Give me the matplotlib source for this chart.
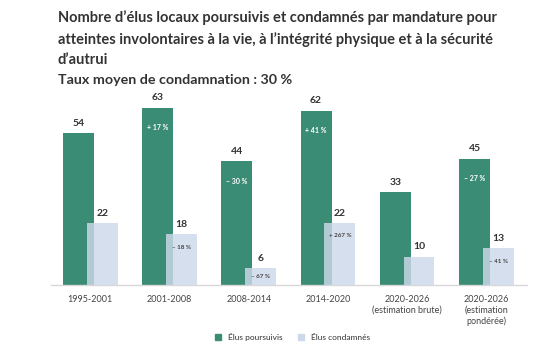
import matplotlib.pyplot as plt
from matplotlib.lines import Line2D

plt.rcParams['font.family'] = ['Lato', 'DejaVu Sans']

# Data
periods = ["1995-2001", "2001-2008", "2008-2014", "2014-2020",
           "2020-2026\n(estimation brute)", "2020-2026\n(estimation\npondérée)"]
poursuivis = [54, 63, 44, 62, 33, 45]
condamnes = [22, 18, 6, 22, 10, 13]
var_poursuivis = [None, "+ 17 %", "– 30 %", "+ 41 %", None, "– 27 %"]
var_condamnes = [None, "– 18 %", "– 67 %", "+ 267 %", None, "– 41 %"]

GREEN = "#3b8c74"
BLUE = "#cdd9ea"
DARK = "#333333"

fig = plt.figure(figsize=(5.45, 3.5), dpi=100)
ax = fig.add_axes([51 / 545, 1 - 285 / 350, 476 / 545, 195 / 350])

x = list(range(len(periods)))
xb = [i + 0.3 for i in x]
ax.bar(x, poursuivis, width=0.39, color=GREEN, zorder=2)
ax.bar(xb, condamnes, width=0.39, color=BLUE, alpha=0.82, zorder=3)

for i in x:
    ax.annotate(str(poursuivis[i]), (x[i], poursuivis[i]), xytext=(0, 4),
                textcoords="offset points", ha="center", va="bottom",
                fontsize=7.5, fontweight="bold", color=DARK)
    ax.annotate(str(condamnes[i]), (xb[i], condamnes[i]), xytext=(0, 4),
                textcoords="offset points", ha="center", va="bottom",
                fontsize=7.5, fontweight="bold", color=DARK)
    if var_poursuivis[i]:
        ax.text(x[i], poursuivis[i] - 7, var_poursuivis[i], ha="center", va="center",
                fontsize=5, fontweight="bold", color="white", zorder=4)
    if var_condamnes[i]:
        ax.text(xb[i], max(condamnes[i] - 4.5, condamnes[i] / 2), var_condamnes[i],
                ha="center", va="center", fontsize=4.5, fontweight="bold",
                color="#444444", zorder=4)

ax.set_xlim(-0.347, 5.663)
ax.set_ylim(0, 69.4)
ax.set_xticks([i + 0.15 for i in x])
ax.set_xticklabels(periods, fontsize=6.5, color="#444444", linespacing=1.25, va="top")
ax.tick_params(axis="x", length=0, pad=7)
ax.set_yticks([])
for s in ["top", "right", "left"]:
    ax.spines[s].set_visible(False)
ax.spines["bottom"].set_color("#d8d8d8")
ax.spines["bottom"].set_linewidth(1)

# Titles
fig.text(58 / 545, 1 - 10 / 350,
         "Nombre d’élus locaux poursuivis et condamnés par mandature pour\n"
         "atteintes involontaires à la vie, à l’intégrité physique et à la sécurité\n"
         "d’autrui",
         ha="left", va="top", fontsize=10.5, fontweight="bold", color=DARK,
         linespacing=1.6)
fig.text(58 / 545, 1 - 80 / 350, "Taux moyen de condamnation : 30 %",
         ha="left", va="center", fontsize=10.3, fontweight="bold", color=DARK)

handles = [Line2D([], [], marker="s", linestyle="", color=GREEN, markersize=4),
           Line2D([], [], marker="s", linestyle="", color=BLUE, markersize=4)]
fig.legend(handles, ["Élus poursuivis", "Élus condamnés"], loc="center",
           bbox_to_anchor=(290 / 545, 1 - 337 / 350), ncol=2, frameon=False,
           fontsize=6, handletextpad=0.2, columnspacing=1.2, labelcolor="#333333")

fig.savefig("out.png", dpi=100)
